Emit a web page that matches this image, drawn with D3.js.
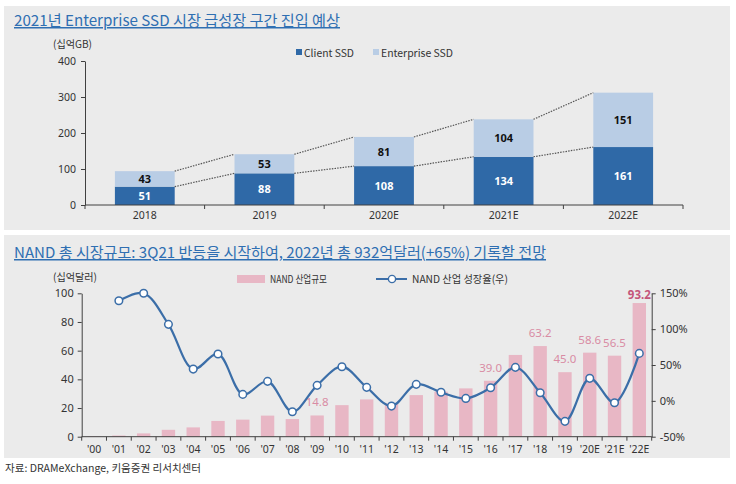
<!DOCTYPE html>
<html>
<head>
<meta charset="utf-8">
<script src="https://cdn.jsdelivr.net/npm/d3@7"></script>
<style>
  html, body { margin: 0; padding: 0; background: #ffffff; }
  svg { display: block; }
  text { font-family: "Noto Sans CJK KR", "Noto Sans", sans-serif; }
</style>
</head>
<body>
<svg id="chart" width="736" height="484"></svg>
<script>
// ---------- Top chart data ----------
const ssdYears = ["2018", "2019", "2020E", "2021E", "2022E"];
const clientSSD = [51, 88, 108, 134, 161];
const enterpriseSSD = [43, 53, 81, 104, 151];
const ssdTicks = [0, 100, 200, 300, 400];

// ---------- Bottom chart data ----------
const nandYears = ["'00","'01","'02","'03","'04","'05","'06","'07","'08","'09","'10","'11","'12","'13","'14","'15","'16","'17","'18","'19","'20E","'21E","'22E"];
const nandMarket = [0.3, 0.8, 2.3, 4.8, 6.5, 11.0, 11.9, 14.7, 12.3, 14.8, 22.0, 26.0, 23.2, 29.0, 31.4, 33.7, 39.0, 57.0, 63.2, 45.0, 58.6, 56.5, 93.2];
const nandGrowth = [null, 139.6, 150, 106.7, 44.3, 65.3, 9.0, 27.2, -15.2, 21.6, 47.6, 18.8, -7.3, 23.0, 11.9, 3.4, 18.3, 46.7, 11.3, -28.6, 31.4, -2.6, 66.2];
const nandLabelled = ["'09", "'16", "'18", "'19", "'20E", "'21E", "'22E"];
const nandLeftTicks = [0, 20, 40, 60, 80, 100];
const nandRightTicks = [-50, 0, 50, 100, 150];

const svg = d3.select("#chart");
const AXIS = "#404040";
const TITLE = "#2f6fb2";

function fitText(sel, w) {
  sel.attr("textLength", w).attr("lengthAdjust", "spacingAndGlyphs");
  return sel;
}

// panels
svg.append("rect").attr("x", 4).attr("y", 6).attr("width", 726).attr("height", 224).attr("fill", "#ebebeb");
svg.append("rect").attr("x", 4).attr("y", 235).attr("width", 726).attr("height", 223).attr("fill", "#ebebeb");

// ===================== TOP CHART =====================
fitText(svg.append("text").attr("x", 14).attr("y", 26).attr("font-size", 15).attr("fill", TITLE)
  .attr("text-decoration", "underline")
  .text("2021년 Enterprise SSD 시장 급성장 구간 진입 예상"), 326);

fitText(svg.append("text").attr("x", 53).attr("y", 48).attr("font-size", 10.5).attr("fill", "#333")
  .text("(십억GB)"), 39);

// legend top
svg.append("rect").attr("x", 296).attr("y", 49).attr("width", 6).attr("height", 6).attr("fill", "#2f69a7");
fitText(svg.append("text").attr("x", 304).attr("y", 56.5).attr("font-size", 10.5).attr("fill", "#333").text("Client SSD"), 50);
svg.append("rect").attr("x", 373).attr("y", 49).attr("width", 6).attr("height", 6).attr("fill", "#b9cde5");
fitText(svg.append("text").attr("x", 381).attr("y", 56.5).attr("font-size", 10.5).attr("fill", "#333").text("Enterprise SSD"), 72);

const xTop = d3.scaleBand().domain(ssdYears).range([85, 683]).paddingInner(0.5).paddingOuter(0.25);
const yTop = d3.scaleLinear().domain([0, 400]).range([205, 61]);

// left axis
const gTL = svg.append("g").attr("transform", "translate(85,0)")
  .call(d3.axisLeft(yTop).tickValues(ssdTicks).tickSize(4).tickSizeOuter(0));
gTL.select(".domain").attr("stroke", AXIS);
gTL.selectAll(".tick line").attr("stroke", AXIS);
gTL.selectAll(".tick text").attr("fill", "#333").attr("font-size", 10.5).attr("x", -9)
  .style("font-family", "'Noto Sans', sans-serif");

// bars
const stackData = ssdYears.map((y, i) => ({ year: y, client: clientSSD[i], ent: enterpriseSSD[i] }));
const stack = d3.stack().keys(["client", "ent"])(stackData);
const topColors = { client: "#2f69a7", ent: "#b9cde5" };
stack.forEach(layer => {
  svg.append("g").selectAll("rect").data(layer).join("rect")
    .attr("x", d => xTop(d.data.year))
    .attr("width", xTop.bandwidth())
    .attr("y", d => yTop(d[1]))
    .attr("height", d => yTop(d[0]) - yTop(d[1]))
    .attr("fill", topColors[layer.key]);
});

// dotted connectors
for (let i = 0; i < ssdYears.length - 1; i++) {
  const x1 = xTop(ssdYears[i]) + xTop.bandwidth();
  const x2 = xTop(ssdYears[i + 1]);
  [[clientSSD[i], clientSSD[i + 1]], [clientSSD[i] + enterpriseSSD[i], clientSSD[i + 1] + enterpriseSSD[i + 1]]].forEach(p => {
    svg.append("line").attr("x1", x1).attr("x2", x2).attr("y1", yTop(p[0])).attr("y2", yTop(p[1]))
      .attr("stroke", "#555").attr("stroke-width", 1.2).attr("stroke-dasharray", "1.5,1.2");
  });
}

// labels in bars
stack.forEach(layer => {
  svg.append("g").selectAll("text").data(layer).join("text")
    .attr("x", d => xTop(d.data.year) + xTop.bandwidth() / 2)
    .attr("y", d => (yTop(d[0]) + yTop(d[1])) / 2 + 4)
    .attr("text-anchor", "middle")
    .attr("font-size", 11).attr("font-weight", "bold")
    .style("font-family", "'Noto Sans', sans-serif")
    .attr("fill", layer.key === "client" ? "#ffffff" : "#111")
    .text(d => d.data[layer.key]);
});

// bottom axis
svg.append("line").attr("x1", 85).attr("x2", 683).attr("y1", 205).attr("y2", 205).attr("stroke", AXIS);
const topStep = xTop.step();
const topBounds = ssdYears.map(d => xTop(d) - topStep * xTop.paddingInner() / 2).concat([683]);
svg.append("g").selectAll("line").data(topBounds).join("line")
  .attr("x1", d => d).attr("x2", d => d).attr("y1", 205).attr("y2", 209).attr("stroke", AXIS);
const gTB = svg.append("g").attr("transform", "translate(0,205)")
  .call(d3.axisBottom(xTop).tickSize(0));
gTB.select(".domain").remove();
gTB.selectAll(".tick text").attr("fill", "#333").attr("font-size", 10.5).attr("dy", "1.05em")
  .style("font-family", "'Noto Sans', sans-serif");

// ===================== BOTTOM CHART =====================
fitText(svg.append("text").attr("x", 14).attr("y", 258).attr("font-size", 15).attr("fill", TITLE)
  .attr("text-decoration", "underline")
  .text("NAND 총 시장규모: 3Q21 반등을 시작하여, 2022년 총 932억달러(+65%) 기록할 전망"), 532);

fitText(svg.append("text").attr("x", 53).attr("y", 281).attr("font-size", 10.5).attr("fill", "#333")
  .text("(십억달러)"), 44);

// legend
svg.append("rect").attr("x", 237).attr("y", 275).attr("width", 28).attr("height", 8).attr("fill", "#e8b7c5");
fitText(svg.append("text").attr("x", 270).attr("y", 283).attr("font-size", 10.5).attr("fill", "#333").text("NAND 산업규모"), 57);
svg.append("line").attr("x1", 376).attr("x2", 407).attr("y1", 279).attr("y2", 279).attr("stroke", "#3b6ea8").attr("stroke-width", 2);
svg.append("circle").attr("cx", 392).attr("cy", 279).attr("r", 3.6).attr("fill", "#fff").attr("stroke", "#3b6ea8").attr("stroke-width", 1.4);
fitText(svg.append("text").attr("x", 412).attr("y", 283).attr("font-size", 10.5).attr("fill", "#333").text("NAND 산업 성장율(우)"), 96);

const xB = d3.scaleBand().domain(nandYears).range([81.7, 651.7]).paddingInner(0.46).paddingOuter(0.23);
const yL = d3.scaleLinear().domain([0, 100]).range([436.7, 293.3]);
const yR = d3.scaleLinear().domain([-50, 150]).range([436.7, 293.3]);

// bars
svg.append("g").selectAll("rect").data(nandYears).join("rect")
  .attr("x", d => xB(d))
  .attr("width", xB.bandwidth())
  .attr("y", (d, i) => yL(nandMarket[i]))
  .attr("height", (d, i) => yL(0) - yL(nandMarket[i]))
  .attr("fill", "#e8b7c5");

// left axis
const gBL = svg.append("g").attr("transform", "translate(81.7,0)")
  .call(d3.axisLeft(yL).tickValues(nandLeftTicks).tickSize(4).tickSizeOuter(0));
gBL.select(".domain").attr("stroke", AXIS);
gBL.selectAll(".tick line").attr("stroke", AXIS);
gBL.selectAll(".tick text").attr("fill", "#333").attr("font-size", 11).attr("x", -8)
  .style("font-family", "'Noto Sans', sans-serif");

// right axis
const gBR = svg.append("g").attr("transform", "translate(651.7,0)")
  .call(d3.axisRight(yR).tickValues(nandRightTicks).tickSize(4).tickSizeOuter(0).tickFormat(d => d + "%"));
gBR.select(".domain").attr("stroke", AXIS);
gBR.selectAll(".tick line").attr("stroke", AXIS);
gBR.selectAll(".tick text").attr("fill", "#333").attr("font-size", 11).attr("x", 8)
  .style("font-family", "'Noto Sans', sans-serif");

// bottom axis
svg.append("line").attr("x1", 81.7).attr("x2", 651.7).attr("y1", 436.7).attr("y2", 436.7).attr("stroke", AXIS);
const bStep = xB.step();
const bBounds = nandYears.map(d => xB(d) - bStep * xB.paddingInner() / 2).concat([651.7]);
svg.append("g").selectAll("line").data(bBounds).join("line")
  .attr("x1", d => d).attr("x2", d => d).attr("y1", 436.7).attr("y2", 440.7).attr("stroke", AXIS);
const gBB = svg.append("g").attr("transform", "translate(0,436.7)")
  .call(d3.axisBottom(xB).tickSize(0));
gBB.select(".domain").remove();
gBB.selectAll(".tick text").attr("fill", "#333").attr("font-size", 10.5).attr("dy", "1.25em")
  .style("font-family", "'Noto Sans', sans-serif");

// growth line
const cx = d => xB(d) + xB.bandwidth() / 2;
const growthPts = nandYears.map((d, i) => ({ x: cx(d), v: nandGrowth[i] })).filter(p => p.v !== null);
svg.append("path").datum(growthPts)
  .attr("d", d3.line().x(p => p.x).y(p => yR(p.v)).curve(d3.curveCatmullRom.alpha(0.5)))
  .attr("fill", "none").attr("stroke", "#3b6ea8").attr("stroke-width", 2.2);
svg.append("g").selectAll("circle").data(growthPts).join("circle")
  .attr("cx", p => p.x).attr("cy", p => yR(p.v)).attr("r", 3.8)
  .attr("fill", "#fff").attr("stroke", "#3b6ea8").attr("stroke-width", 1.5);

// bar value labels
svg.append("g").selectAll("text").data(nandLabelled).join("text")
  .attr("x", d => cx(d))
  .attr("y", d => {
    const v = nandMarket[nandYears.indexOf(d)];
    return yL(v) - (d === "'22E" ? 4 : 9);
  })
  .attr("text-anchor", "middle")
  .attr("font-size", 11.5)
  .style("font-family", "'Noto Sans', sans-serif")
  .attr("font-weight", d => d === "'22E" ? "bold" : "normal")
  .attr("fill", d => d === "'22E" ? "#c4557a" : "#d98ba4")
  .text(d => nandMarket[nandYears.indexOf(d)].toFixed(1));

// footer
fitText(svg.append("text").attr("x", 5).attr("y", 472).attr("font-size", 10.5).attr("fill", "#333")
  .text("자료: DRAMeXchange, 키움증권 리서치센터"), 196);
</script>
</body>
</html>
